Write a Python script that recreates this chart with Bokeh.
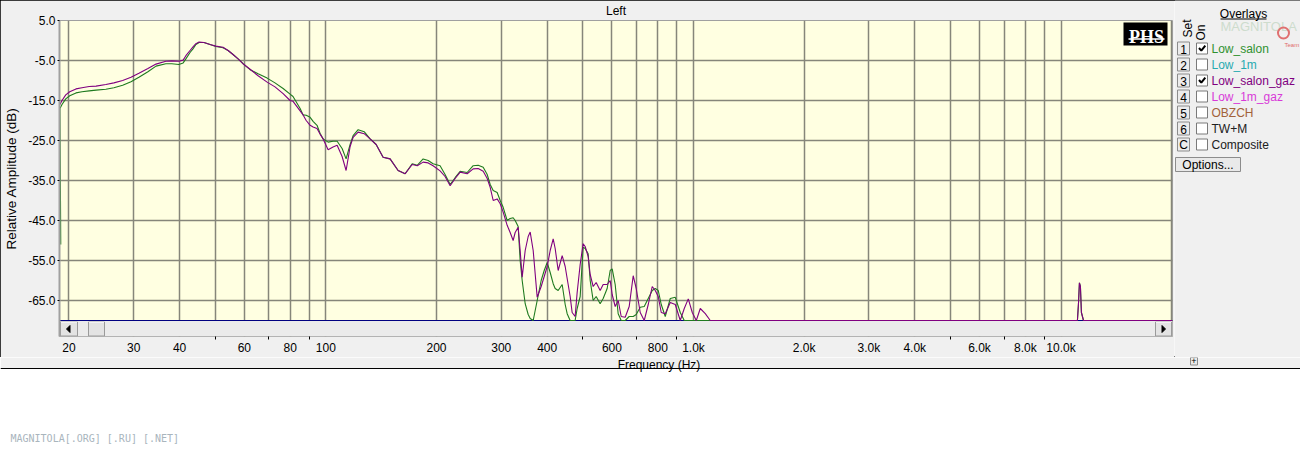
from bokeh.plotting import figure
from bokeh.models import Range1d, LinearScale, FixedTicker, NumeralTickFormatter
from bokeh.layouts import row, column
from bokeh.embed import file_html
from bokeh.resources import INLINE
from bokeh.core.properties import value

# ---------------- data ----------------
freq_hz = [
    18.9, 19.15, 19.6, 20.1, 20.9, 21.7, 22.7, 23.7, 25.2, 26.5,
    28.0, 29.5, 31.0, 32.8, 34.5, 36.7, 38.1, 39.8, 40.9, 41.6,
    42.7, 43.5, 44.3, 45.2, 46.6, 48.4, 50.2, 52.5, 54.2, 55.9,
    57.7, 59.5, 62.2, 65.4, 69.2, 72.7, 76.5, 79.9, 81.4, 85.1,
    86.7, 88.4, 90.6, 92.3, 94.6, 96.4, 98.3, 101.4, 104.6, 107.3,
    110.7, 113.5, 116.4, 118.6, 122.4, 127.1, 131.9, 137.0, 143.1, 149.5,
    157.2, 164.3, 171.7, 177.2, 183.9, 189.8, 195.7, 204.5, 211.0, 217.8,
    224.7, 231.9, 242.3, 251.6, 259.6, 267.9, 274.7, 279.9, 285.2, 292.4,
    298.0, 303.6, 311.3, 317.2, 323.2, 327.3, 333.5, 337.7, 342.0, 348.5,
    355.1, 359.6, 366.4, 375.7, 385.2, 392.6, 400.0, 407.6, 415.3, 420.5,
    428.5, 439.4, 447.7, 453.3, 461.9, 467.7, 476.5, 482.6, 491.8, 501.1,
    507.4, 517.0, 523.6, 533.5, 543.6, 557.4, 568.0, 582.4, 593.5, 601.0,
    612.4, 624.0, 635.9, 652.0, 668.6, 685.6, 698.6, 716.4, 734.6, 753.3,
    772.4, 787.0, 802.0, 817.2, 838.0, 864.7, 892.2, 920.6, 944.0, 968.0,
    992.6, 1017.8, 1043.6, 1076.8, 1111.0,
    11080, 11150, 11220, 11290, 11360, 11510, 20100,
]

gaz_db = [  # Low_salon_gaz (purple)
    -16.0, -15.0, -13.6, -12.8, -12.1, -11.8, -11.5, -11.4, -11.0, -10.6,
    -10.0, -9.2, -8.2, -7.0, -5.9, -5.2, -5.1, -5.2, -4.9, -3.8,
    -2.5, -1.6, -0.8, -0.4, -0.5, -1.0, -1.4, -1.7, -2.5, -3.5,
    -4.6, -5.8, -7.2, -8.8, -10.4, -11.6, -13.3, -15.0, -15.2, -17.6,
    -18.6, -20.0, -21.2, -21.6, -22.0, -23.4, -24.6, -27.3, -26.6, -26.2,
    -29.0, -32.5, -26.5, -24.2, -22.9, -23.3, -24.6, -26.0, -29.2, -29.6,
    -32.5, -33.3, -31.0, -31.3, -30.4, -30.6, -31.3, -32.6, -34.0, -36.3,
    -34.5, -32.9, -33.3, -32.1, -32.0, -32.7, -34.5, -36.7, -40.0, -39.6,
    -40.8, -42.9, -46.2, -48.0, -50.0, -48.0, -46.7, -52.5, -59.2, -52.5,
    -49.0, -47.9, -52.5, -64.2, -61.5, -59.0, -56.5, -52.5, -49.6, -52.0,
    -57.5, -53.8, -56.5, -59.5, -64.0, -68.0, -69.0, -63.0, -56.0, -50.8,
    -51.5, -54.0, -58.5, -61.5, -60.5, -62.5, -61.0, -61.0, -60.0, -63.5,
    -66.5, -65.0, -69.0, -69.2, -66.5, -58.8, -62.0, -68.0, -70.0, -66.0,
    -61.5, -62.5, -64.0, -68.0, -68.3, -65.5, -66.0, -70.0, -67.0, -64.6,
    -68.0, -70.0, -67.0, -68.3, -70.0,
    -70.0, -66.0, -60.6, -61.5, -68.0, -70.0, -70.0,
]

salon_db = [  # Low_salon (green)
    -17.0, -16.0, -14.6, -13.8, -13.1, -12.8, -12.6, -12.4, -12.2, -11.8,
    -11.2, -10.3, -9.2, -7.8, -6.4, -5.8, -5.8, -6.0, -5.6, -4.6,
    -3.0, -2.1, -1.0, -0.5, -0.5, -1.0, -1.5, -1.8, -2.5, -3.5,
    -4.6, -5.8, -7.3, -8.3, -9.4, -10.6, -12.0, -13.4, -14.0, -17.0,
    -18.6, -18.7, -19.2, -20.2, -21.2, -23.2, -24.6, -25.4, -25.2, -25.2,
    -27.0, -29.6, -26.0, -23.8, -22.3, -22.8, -24.6, -26.0, -29.2, -29.6,
    -32.5, -33.3, -30.8, -31.2, -29.6, -30.0, -30.8, -31.3, -33.5, -36.0,
    -34.3, -32.7, -33.0, -31.3, -31.2, -31.7, -33.5, -36.0, -37.5, -38.0,
    -40.0, -41.7, -45.0, -44.5, -44.3, -45.0, -46.5, -55.0, -60.0, -65.8,
    -68.5, -69.5, -70.0, -65.0, -60.0, -57.5, -55.5, -58.0, -60.8, -62.0,
    -62.5, -61.0, -66.0, -68.3, -70.0, -70.0, -70.0, -67.0, -64.0, -51.7,
    -52.0, -53.3, -60.0, -65.0, -64.0, -65.8, -64.5, -62.0, -57.5, -57.1,
    -61.0, -68.3, -70.0, -70.0, -69.0, -69.0, -68.5, -66.7, -66.5, -64.5,
    -62.5, -62.0, -62.5, -66.0, -69.0, -64.5, -64.2, -68.0, -70.0, -70.0,
    -70.0, -70.0, -70.0, -70.0, -70.0,
    -70.0, -66.0, -60.6, -61.5, -68.0, -70.0, -70.0,
]

salon_onset_hz = [19.0]
salon_onset_db = [-51.0]

overlay_keys = ["1", "2", "3", "4", "5", "6", "C"]
overlay_names = ["Low_salon", "Low_1m", "Low_salon_gaz", "Low_1m_gaz", "OBZCH", "TW+M", "Composite"]
overlay_colors = ["#2f912f", "#27aab0", "#800080", "#d83ad8", "#a2623a", "#202020", "#202020"]
overlay_on = [True, False, True, False, False, False, False]

x_tick_values = [20, 30, 40, 60, 80, 100, 200, 300, 400, 600, 800,
                 1000, 2000, 3000, 4000, 6000, 8000, 10000]
x_tick_labels = ["20", "30", "40", "60", "80", "100", "200", "300", "400", "600", "800",
                 "1.0k", "2.0k", "3.0k", "4.0k", "6.0k", "8.0k", "10.0k"]
x_minor_ticks = [50, 70, 90, 500, 700, 900, 5000, 7000, 9000]
x_grid_values = [20, 30, 40, 50, 60, 70, 80, 90,
                 100, 200, 300, 400, 500, 600, 700, 800, 900,
                 1000, 2000, 3000, 4000, 5000, 6000, 7000, 8000, 9000,
                 10000, 20000]
y_tick_values = [5, -5, -15, -25, -35, -45, -55, -65]
x_caption = "Frequency (Hz)"

SALON_COLOR = "#1f7a1f"
GAZ_COLOR = "#800080"
FONT = "Liberation Sans"
GRID = "#86867a"
PANEL_BG = "#f0f0f0"

# ---------------- main plot ----------------
FRAME_L, FRAME_T = 59, 20
FRAME_W, FRAME_H = 1113, 316
MAIN_W, MAIN_H = 1174, 357
p = figure(width=MAIN_W, height=MAIN_H, x_axis_type="log",
           x_range=Range1d(18.85, 20100), y_range=Range1d(-74, 5),
           output_backend="svg", toolbar_location=None, title="Left",
           min_border_left=FRAME_L, min_border_right=MAIN_W - FRAME_L - FRAME_W,
           min_border_top=FRAME_T, min_border_bottom=MAIN_H - FRAME_T - FRAME_H,
           background_fill_color="#ffffe1", border_fill_color=PANEL_BG,
           outline_line_color="#a0a0a0", frame_align=False)
p.title.align = "center"
p.title.text_font = FONT
p.title.text_font_size = "12px"
p.title.text_font_style = "normal"
p.title.text_color = "#000000"
p.title.standoff = 4
p.title.vertical_align = "middle"

p.extra_x_ranges = {"px": Range1d(0, FRAME_W)}
p.extra_x_scales = {"px": LinearScale()}
p.extra_y_ranges = {"px": Range1d(FRAME_H, 0)}
p.extra_y_scales = {"px": LinearScale()}
PX = dict(x_range_name="px", y_range_name="px")

# grid
p.xgrid.ticker = FixedTicker(ticks=x_grid_values)
p.ygrid.ticker = FixedTicker(ticks=y_tick_values)
p.grid.grid_line_color = GRID
p.grid.grid_line_width = 1.5

# x axis
p.xaxis.ticker = FixedTicker(ticks=x_tick_values, minor_ticks=x_minor_ticks)
p.xaxis.major_label_overrides = {v: l for v, l in zip(x_tick_values, x_tick_labels)}
p.xaxis.axis_line_color = None
p.xaxis.major_tick_out = 0
p.xaxis.major_tick_in = 0
p.xaxis.minor_tick_out = 3
p.xaxis.minor_tick_in = 0
p.xaxis.minor_tick_line_color = "#000000"
p.xaxis.major_label_standoff = 1
p.xaxis.major_label_text_line_height = 1.0

# y axis
p.yaxis.ticker = FixedTicker(ticks=y_tick_values)
p.yaxis.formatter = NumeralTickFormatter(format="0.0")
p.yaxis.axis_label = "Relative Amplitude (dB)"
p.yaxis.axis_label_text_font = FONT
p.yaxis.axis_label_text_font_size = "13.5px"
p.yaxis.axis_label_text_font_style = "normal"
p.yaxis.axis_label_text_color = "#000000"
p.yaxis.axis_label_standoff = 6
p.yaxis.major_tick_in = 0
p.yaxis.major_tick_out = 2
p.yaxis.minor_tick_in = 0
p.yaxis.minor_tick_out = 0
p.yaxis.major_tick_line_color = "#000000"
p.yaxis.axis_line_color = "#a0a0a0"
p.yaxis.axis_line_width = 2
p.yaxis.major_label_standoff = 2

for ax in (p.xaxis, p.yaxis):
    ax.major_label_text_font = FONT
    ax.major_label_text_font_size = "12px"
    ax.major_label_text_color = "#000000"

# scrollbar strip (frame pixel coordinates)
p.quad(left=[0], right=[FRAME_W], top=[300.5], bottom=[FRAME_H],
       fill_color="#ebebeb", line_color=None, **PX)
p.quad(left=[1, 29, 1096], right=[18, 45, 1112], top=[301.5] * 3, bottom=[315.5] * 3,
       fill_color="#e3e3e3", line_color="#9a9a9a", line_width=1, **PX)
p.segment(x0=[1.5, 29.5, 1096.5], y0=[301.8] * 3, x1=[17.5, 44.5, 1111.5], y1=[301.8] * 3,
          line_color="#ffffff", line_width=1, **PX)
p.patch(x=[7, 10.5, 10.5], y=[308.5, 305, 312], fill_color="#000000", line_color="#000000", **PX)
p.patch(x=[1106, 1102.5, 1102.5], y=[308.5, 305, 312], fill_color="#000000", line_color="#000000", **PX)
p.segment(x0=[0], y0=[300], x1=[FRAME_W], y1=[300], line_color="#000080", line_width=1.2, **PX)

# curves
p.line(salon_onset_hz + freq_hz, salon_onset_db + salon_db, line_color=SALON_COLOR, line_width=1.1)
p.line(freq_hz, gaz_db, line_color=GAZ_COLOR, line_width=1.1)

# PHS badge
p.quad(left=[1064], right=[1108], top=[2], bottom=[25], fill_color="#000000", line_color=None, **PX)
p.text(x=[1087], y=[16.5], text=["PHS"], text_font=value("Liberation Serif"),
       text_font_style="bold", text_font_size="18px", text_color="#ffffff",
       text_align="center", text_baseline="alphabetic", **PX)
p.segment(x0=[1069], y0=[18.6], x1=[1105], y1=[18.6], line_color="#ffffff", line_width=1.5, **PX)

# ---------------- overlays panel ----------------
PW, PH = 1300 - MAIN_W, MAIN_H
panel = figure(width=PW, height=PH, x_range=Range1d(0, PW), y_range=Range1d(PH, 0),
               output_backend="svg", toolbar_location=None, title=None,
               x_axis_location=None, y_axis_location=None, min_border=0,
               background_fill_color=PANEL_BG, border_fill_color=PANEL_BG,
               outline_line_color=None, frame_align=False)
panel.grid.visible = False

# faint watermark
panel.text(x=[46], y=[26], text=["MAGNITOLA"], text_font=value(FONT), text_font_size="13px",
           text_color="#cddccd", text_baseline="middle")
panel.circle(x=[109], y=[32.5], radius=5.5, fill_color=None, line_color="#e07070", line_width=2)
panel.text(x=[110], y=[44], text=["Team"], text_font=value(FONT), text_font_size="6px",
           text_color="#e06a6a", text_baseline="middle")

panel.text(x=[69], y=[13], text=["Overlays"], text_font=value(FONT), text_font_size="12px",
           text_color="#000000", text_align="center", text_baseline="middle")
panel.segment(x0=[46], y0=[18.5], x1=[92], y1=[18.5], line_color="#000000", line_width=1)
panel.text(x=[13, 26], y=[28, 32], text=["Set", "On"], text_font=value(FONT), text_font_size="12px",
           text_color="#000000", text_align="center", text_baseline="middle", angle=1.5708)

row_y = [48 + 16 * i for i in range(len(overlay_names))]
panel.quad(left=[3] * 7, right=[15] * 7, top=[y - 6.5 for y in row_y], bottom=[y + 6.5 for y in row_y],
           fill_color="#ececec", line_color="#8c8c8c")
panel.text(x=[9] * 7, y=[y + 0.5 for y in row_y], text=overlay_keys, text_font=value(FONT),
           text_font_size="12px", text_color="#000000", text_align="center", text_baseline="middle")
panel.quad(left=[22] * 7, right=[33] * 7, top=[y - 5.5 for y in row_y], bottom=[y + 5.5 for y in row_y],
           fill_color="#ffffff", line_color="#7a7a7a")
on_y = [y for y, on in zip(row_y, overlay_on) if on]
panel.multi_line(xs=[[24.5, 26.8, 30.8] for _ in on_y], ys=[[y - 0.5, y + 2.2, y - 2.8] for y in on_y],
                 line_color="#000000", line_width=2)
panel.text(x=[37] * 7, y=row_y, text=overlay_names, text_font=value(FONT), text_font_size="12px",
           text_color=overlay_colors, text_baseline="middle")

panel.quad(left=[1], right=[66], top=[157], bottom=[171], fill_color="#e9e9e9", line_color="#8c8c8c")
panel.text(x=[33.5], y=[164], text=["Options..."], text_font=value(FONT), text_font_size="12px",
           text_color="#000000", text_align="center", text_baseline="middle")

# ---------------- footer: end of the grey window strip + site caption ----------------
FH = 444 - MAIN_H
foot = figure(width=1300, height=FH, x_range=Range1d(0, 1300), y_range=Range1d(FH, 0),
              output_backend="svg", toolbar_location=None, title=None,
              x_axis_location=None, y_axis_location=None, min_border=0,
              background_fill_color="#ffffff", border_fill_color="#ffffff", outline_line_color=None,
              frame_align=False)
foot.grid.visible = False
foot.quad(left=[0], right=[1300], top=[0], bottom=[11], fill_color=PANEL_BG, line_color=None)
foot.segment(x0=[0], y0=[11], x1=[1300], y1=[11], line_color="#000000", line_width=1)
# x-axis caption (sits just under the tick labels, right of centre as in the original)
foot.text(x=[658.5], y=[7.5], text=[x_caption], text_font=value(FONT), text_font_size="12px",
          text_color="#000000", text_align="center", text_baseline="alphabetic")
# small "+" zoom button
foot.quad(left=[1190], right=[1197], top=[0], bottom=[7.5], fill_color="#e9e9e9", line_color="#8c8c8c")
foot.text(x=[1193.5], y=[3.8], text=["+"], text_font=value(FONT), text_font_size="9px",
          text_color="#000000", text_align="center", text_baseline="middle")
foot.text(x=[10], y=[81], text=["MAGNITOLA[.ORG] [.RU] [.NET]"], text_font=value("DejaVu Sans Mono"),
          text_font_size="10px", text_color="#a9b5bd", text_baseline="middle")

top = row(p, panel)
top.styles = {"outline": "1px solid #000000", "outline-offset": "-1px"}
layout = column(top, foot)

open("out.html", "w").write(file_html(layout, INLINE))
